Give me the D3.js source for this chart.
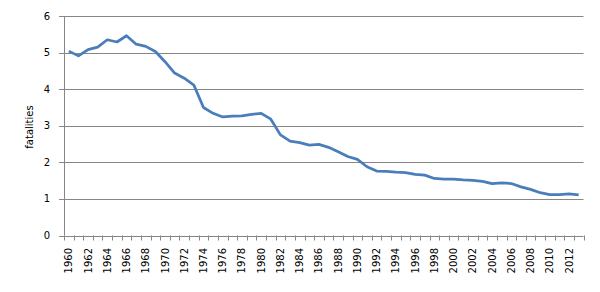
<!DOCTYPE html>
<html>
<head>
<meta charset="utf-8">
<script src="https://cdn.jsdelivr.net/npm/d3@7"></script>
<style>
  body { margin: 0; background: #fff; }
  text { font-family: "DejaVu Sans", sans-serif; font-size: 10px; fill: #000; }
</style>
</head>
<body>
<div id="chart"></div>
<script>
const years = d3.range(1960, 2014).map(String);
const fatalities = [
  5.04, 4.91, 5.08, 5.15, 5.35, 5.29, 5.46, 5.23, 5.17, 5.03,
  4.75, 4.44, 4.30, 4.11, 3.50, 3.34, 3.24, 3.26, 3.27, 3.31,
  3.34, 3.18, 2.75, 2.58, 2.54, 2.47, 2.49, 2.41, 2.29, 2.16,
  2.08, 1.88, 1.76, 1.75, 1.73, 1.72, 1.67, 1.65, 1.56, 1.54,
  1.54, 1.52, 1.51, 1.48, 1.42, 1.44, 1.42, 1.33, 1.26, 1.17,
  1.12, 1.12, 1.14, 1.11
];
const yTicks = [0, 1, 2, 3, 4, 5, 6];
const yLabel = "fatalities";

const W = 600, H = 292;
const margin = {top: 16, right: 16.5, bottom: 56.5, left: 64};
const width = W - margin.left - margin.right;
const height = H - margin.top - margin.bottom;

const svg = d3.select("#chart").append("svg")
  .attr("width", W)
  .attr("height", H);

const g = svg.append("g")
  .attr("transform", `translate(${margin.left},${margin.top})`);

const x = d3.scaleBand().domain(years).range([0, width]);
const y = d3.scaleLinear().domain([0, 6]).range([height, 0]);

// gridlines (with the small outside tick)
g.append("g").selectAll("line")
  .data(yTicks)
  .join("line")
    .attr("x1", -5)
    .attr("x2", width)
    .attr("y1", d => Math.round(y(d)) + 0.5)
    .attr("y2", d => Math.round(y(d)) + 0.5)
    .attr("stroke", "#868686")
    .attr("stroke-width", 1);

// y axis line
g.append("line")
  .attr("x1", 0.5).attr("x2", 0.5)
  .attr("y1", 0).attr("y2", height)
  .attr("stroke", "#868686");

// y tick labels
g.append("g").selectAll("text")
  .data(yTicks)
  .join("text")
    .attr("x", -14)
    .attr("y", d => y(d))
    .attr("dy", "0.35em")
    .attr("text-anchor", "end")
    .text(d => d);

// x ticks between categories
const bounds = years.map(d => x(d)).concat([x.range()[1]]);
g.append("g").selectAll("line")
  .data(bounds)
  .join("line")
    .attr("x1", d => Math.round(d) + 0.5)
    .attr("x2", d => Math.round(d) + 0.5)
    .attr("y1", height)
    .attr("y2", height + 5)
    .attr("stroke", "#868686");

// x labels every second year
g.append("g").selectAll("text")
  .data(years.filter((d, i) => i % 2 === 0))
  .join("text")
    .attr("text-anchor", "end")
    .attr("transform", d => `translate(${x(d) + x.bandwidth() / 2 + 3.5},${height + 12.5}) rotate(-90)`)
    .text(d => d);

// axis title
svg.append("text")
  .attr("text-anchor", "middle")
  .attr("transform", `translate(33,127) rotate(-90)`)
  .text(yLabel);

const line = d3.line()
  .x((d, i) => x(years[i]) + x.bandwidth() / 2)
  .y(d => y(d));

g.append("path")
  .datum(fatalities)
  .attr("fill", "none")
  .attr("stroke", "#4a7ebb")
  .attr("stroke-width", 2.75)
  .attr("stroke-linejoin", "round")
  .attr("d", line);
</script>
</body>
</html>
